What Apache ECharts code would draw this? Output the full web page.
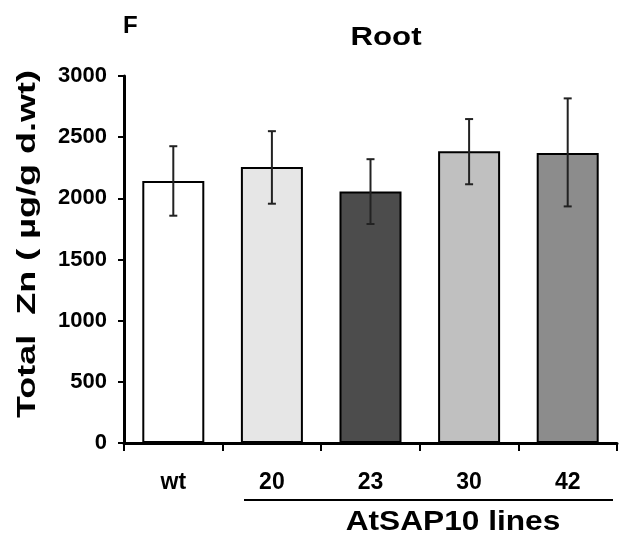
<!DOCTYPE html>
<html>
<head>
<meta charset="utf-8">
<script src="https://cdn.jsdelivr.net/npm/echarts@6/dist/echarts.min.js"></script>
<style>html,body{margin:0;padding:0;background:#fff}#c{width:620px;height:540px}</style>
</head>
<body>
<div id="c"></div>
<script>
var categories = ['wt', '20', '23', '30', '42'];
var means = [2142, 2257, 2055, 2385, 2371];
var errLow = [1858, 1956, 1790, 2115, 1934];
var errHigh = [2426, 2549, 2320, 2648, 2817];
var barColors = ['#ffffff', '#e6e6e6', '#4c4c4c', '#c0c0c0', '#8c8c8c'];
var yTicks = [0, 500, 1000, 1500, 2000, 2500, 3000];

var FONT = '"Liberation Sans", Arial, sans-serif';
var NARROW = '"Liberation Sans Narrow", "Arial Narrow", "Liberation Sans", sans-serif';
var chart = echarts.init(document.getElementById('c'), null, {renderer: 'canvas'});

chart.setOption({
  animation: false,
  backgroundColor: '#fff',
  grid: {left: 124, right: 3, top: 76, bottom: 97, containLabel: false},
  xAxis: {
    type: 'category',
    data: categories,
    boundaryGap: true,
    axisLine: {lineStyle: {color: '#000', width: 3}},
    axisTick: {show: true, length: 8, lineStyle: {color: '#000', width: 2}},
    axisLabel: {color: '#000', fontFamily: NARROW, fontWeight: 'bold', fontSize: 23, margin: 28}
  },
  yAxis: {
    type: 'value',
    min: yTicks[0],
    max: yTicks[yTicks.length - 1],
    interval: 500,
    splitLine: {show: false},
    axisLine: {show: true, lineStyle: {color: '#000', width: 3}},
    axisTick: {show: true, length: 6, lineStyle: {color: '#000', width: 2}},
    axisLabel: {color: '#000', fontFamily: NARROW, fontWeight: 'bold', fontSize: 22, margin: 17,
      formatter: function (v) { return String(v); }}
  },
  graphic: [
    {type: 'text', x: 123, y: 26, style: {text: 'F', font: 'bold 24px ' + FONT, fill: '#000', align: 'left', verticalAlign: 'middle'}},
    {type: 'text', x: 386, y: 38, scaleX: 1.2, style: {text: 'Root', font: 'bold 26px ' + FONT, fill: '#000', align: 'center', verticalAlign: 'middle'}},
    {type: 'text', x: 28, y: 244, rotation: Math.PI / 2, scaleX: 1.44,
     style: {text: 'Total  Zn ( µg/g d.wt)', font: 'bold 25px ' + FONT, fill: '#000', align: 'center', verticalAlign: 'middle'}},
    {type: 'line', shape: {x1: 244, y1: 500, x2: 613, y2: 500}, style: {stroke: '#000', lineWidth: 2}},
    {type: 'text', x: 453, y: 522, scaleX: 1.13, style: {text: 'AtSAP10 lines', font: 'bold 28px ' + FONT, fill: '#000', align: 'center', verticalAlign: 'middle'}}
  ],
  series: [
    {
      type: 'bar',
      barWidth: 62,
      data: means.map(function (v, i) {
        return {value: v, itemStyle: {color: barColors[i]}};
      }),
      itemStyle: {borderColor: '#000', borderWidth: 2},
      z: 2
    },
    {
      type: 'custom',
      z: 5,
      data: categories.map(function (c, i) { return [i, errLow[i], errHigh[i]]; }),
      renderItem: function (params, api) {
        var x = api.value(0);
        var lo = api.coord([x, api.value(1)]);
        var hi = api.coord([x, api.value(2)]);
        var hw = 4;
        var st = {stroke: '#222', lineWidth: 2};
        return {
          type: 'group',
          children: [
            {type: 'line', shape: {x1: lo[0], y1: lo[1], x2: hi[0], y2: hi[1]}, style: st},
            {type: 'line', shape: {x1: lo[0] - hw, y1: lo[1], x2: lo[0] + hw, y2: lo[1]}, style: st},
            {type: 'line', shape: {x1: hi[0] - hw, y1: hi[1], x2: hi[0] + hw, y2: hi[1]}, style: st}
          ]
        };
      }
    }
  ]
});
</script>
</body>
</html>
